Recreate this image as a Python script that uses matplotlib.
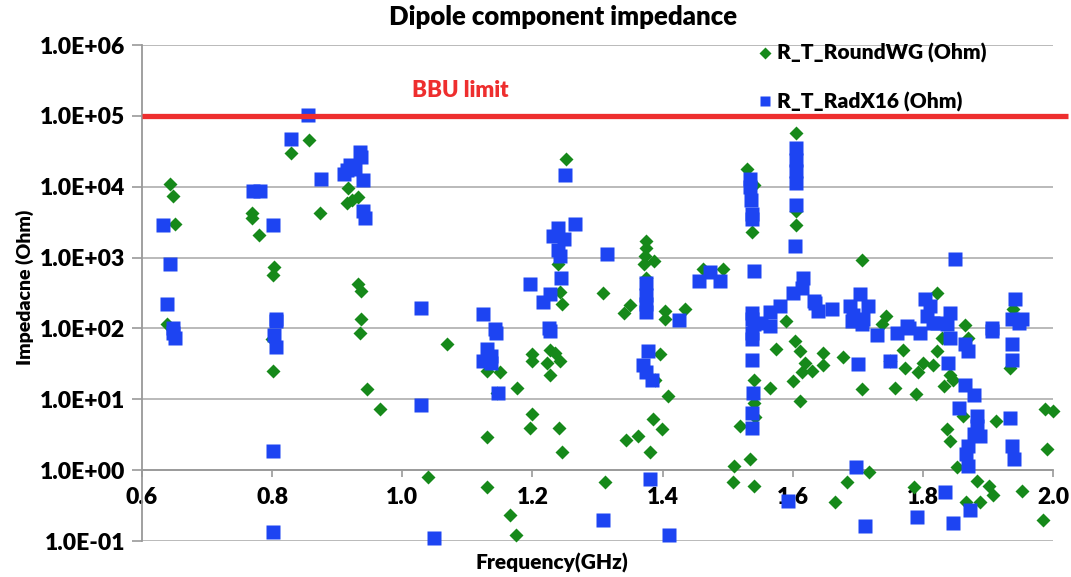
import matplotlib
matplotlib.use("Agg")
import matplotlib.pyplot as plt
from matplotlib.ticker import FixedLocator, FixedFormatter, NullLocator

# ---- data ----
roundwg_freq = [0.643, 0.647, 0.651, 0.638, 0.769, 0.769, 0.780, 0.803, 0.801, 0.800, 0.801,
                0.829, 0.857, 0.874, 0.917, 0.915, 0.932, 0.922, 0.932, 0.936, 0.937, 0.935,
                0.946, 0.965, 1.040, 1.069, 1.130, 1.130, 1.130, 1.150, 1.145, 1.166, 1.175,
                1.176, 1.199, 1.199, 1.199, 1.197, 1.227, 1.235, 1.222, 1.242, 1.227, 1.241,
                1.245, 1.243, 1.245, 1.240, 1.252, 1.309, 1.3115, 1.344, 1.363, 1.350, 1.340,
                1.375, 1.375, 1.373, 1.387, 1.372, 1.375, 1.381, 1.385, 1.399, 1.396, 1.389,
                1.409, 1.404, 1.404, 1.4345, 1.4626, 1.4925, 1.529, 1.540, 1.538, 1.541, 1.541,
                1.542, 1.519, 1.510, 1.535, 1.508, 1.541, 1.565, 1.575, 1.590, 1.605, 1.605,
                1.605, 1.604, 1.611, 1.619, 1.614, 1.601, 1.611, 1.629, 1.647, 1.647, 1.678,
                1.706, 1.706, 1.744, 1.737, 1.683, 1.665, 1.718, 1.786, 1.821, 1.865, 1.870,
                1.821, 1.829, 1.800, 1.815, 1.792, 1.770, 1.772, 1.749, 1.757, 1.790, 1.832,
                1.842, 1.847, 1.862, 1.837, 1.842, 1.852, 1.883, 1.901, 1.908, 1.888, 1.867,
                1.952, 1.913, 1.985, 1.988, 2.000, 1.991, 1.939, 1.934]
roundwg_ohm = [1.09e4, 7.3e3, 3.0e3, 114, 4.2e3, 3.6e3, 2.06e3, 740, 575, 70, 25,
               3.0e4, 4.6e4, 4.3e3, 9.5e3, 5.9e3, 7.2e3, 6.6e3, 420, 340, 134, 87,
               14, 7.4, 0.81, 60, 2.9, 0.57, 25, 24, 12.4, 0.23, 0.12,
               14.3, 43, 35, 6.2, 3.9, 50, 45, 33, 35, 22, 3.9,
               1.8, 325, 218, 800, 2.5e4, 316, 0.68, 2.7, 3.0, 211, 166,
               1.7e3, 1.38e3, 1.05e3, 890, 800, 515, 1.78, 5.2, 3.8, 43, 19,
               11.3, 174, 134, 185, 680, 680, 1.8e4, 1.07e4, 2.3e3, 19, 9.0,
               5.7, 4.2, 1.13, 1.43, 0.68, 0.60, 14.6, 52, 126, 5.8e4, 4.5e3,
               2.9e3, 66, 48, 33, 24, 18, 9.5, 25, 45, 30, 39,
               14, 910, 151, 114, 0.68, 0.36, 0.95, 0.57, 315, 110, 74,
               48, 74, 33, 30, 24, 50, 28, 35, 14.6, 11.8, 15.5,
               22, 19, 5.8, 3.8, 2.6, 1.1, 0.71, 0.60, 0.44, 0.35, 0.36,
               0.51, 5.0, 0.195, 7.4, 6.8, 1.98, 186, 28]

radx16_freq = [0.6327, 0.643, 0.638, 0.648, 0.648, 0.651, 0.771, 0.781, 0.8008, 0.806,
               0.806, 0.803, 0.806, 0.801, 0.801, 0.8285, 0.8556, 0.875, 0.915, 0.910,
               0.920, 0.927, 0.935, 0.937, 0.940, 0.940, 0.942, 1.028, 1.0288, 1.0487,
               1.1245, 1.1425, 1.1435, 1.130, 1.137, 1.137, 1.1245, 1.1475, 1.196, 1.217,
               1.227, 1.226, 1.227, 1.240, 1.232, 1.248, 1.240, 1.243, 1.244, 1.250,
               1.2655, 1.309, 1.315, 1.378, 1.370, 1.375, 1.383, 1.381, 1.410, 1.375,
               1.375, 1.375, 1.375, 1.4258, 1.4565, 1.473, 1.488, 1.5405, 1.534, 1.534,
               1.536, 1.537, 1.537, 1.537, 1.540, 1.552, 1.537, 1.538, 1.538, 1.538,
               1.539, 1.537, 1.538, 1.565, 1.580, 1.565, 1.593, 1.601, 1.614, 1.616,
               1.632, 1.605, 1.605, 1.605, 1.605, 1.605, 1.603, 1.634, 1.639, 1.660,
               1.688, 1.693, 1.716, 1.708, 1.703, 1.701, 1.697, 1.711, 1.750, 1.775,
               1.803, 1.811, 1.806, 1.842, 1.816, 1.849, 1.839, 1.791, 1.834, 1.847,
               1.872, 1.691, 1.706, 1.729, 1.760, 1.778, 1.796, 1.821, 1.837, 1.842,
               1.865, 1.870, 1.906, 1.937, 1.937, 1.947, 1.906, 1.9416, 1.937, 1.952,
               1.865, 1.878, 1.856, 1.883, 1.883, 1.878, 1.888, 1.870, 1.867, 1.870,
               1.934, 1.937, 1.940]
radx16_ohm = [2.85e3, 800, 223, 102, 87, 74, 8.8e3, 8.8e3, 2.9e3, 137,
              126, 82, 54, 1.87, 0.133, 4.7e4, 1.03e5, 1.28e4, 1.7e4, 1.5e4,
              2.0e4, 1.8e4, 3.1e4, 2.6e4, 1.26e4, 4.5e3, 3.6e3, 195, 8.2, 0.11,
              162, 98, 85, 51, 41, 33, 35, 12.4, 430, 236,
              310, 102, 91, 2.6e3, 2.0e3, 1.8e3, 1.29e3, 1.05e3, 515, 1.48e4,
              3.0e3, 0.20, 1.14e3, 48, 30, 24, 19, 0.74, 0.12, 440,
              300, 220, 170, 132, 465, 620, 465, 650, 1.3e4, 1.0e4,
              6.6e3, 4.1e3, 3.5e3, 166, 115, 120, 134, 87, 70, 36,
              12.3, 6.5, 3.9, 173, 205, 107, 0.37, 315, 370, 510,
              240, 3.5e4, 2.4e4, 1.64e4, 1.12e4, 5.6e3, 1.45e3, 230, 175, 190,
              205, 157, 205, 134, 310, 31, 1.1, 0.164, 35, 107,
              257, 205, 148, 166, 120, 960, 33, 0.216, 0.49, 0.18,
              0.27, 126, 114, 82, 87, 102, 87, 120, 114, 74,
              60, 48, 91, 60, 36, 120, 102, 263, 134, 134,
              16, 11.4, 7.6, 5.8, 4.2, 3.2, 3.0, 2.2, 1.7, 1.15,
              5.5, 2.2, 1.43]

bbu_limit = 1.0e5
x_ticks = [0.6, 0.8, 1.0, 1.2, 1.4, 1.6, 1.8, 2.0]
x_tick_labels = ["0.6", "0.8", "1.0", "1.2", "1.4", "1.6", "1.8", "2.0"]
y_ticks = [1e-1, 1e0, 1e1, 1e2, 1e3, 1e4, 1e5, 1e6]
y_tick_labels = ["1.0E-01", "1.0E+00", "1.0E+01", "1.0E+02",
                 "1.0E+03", "1.0E+04", "1.0E+05", "1.0E+06"]

GREEN = "#16891a"
BLUE = "#1d44f2"
RED = "#ee2e2e"
GRID = "#b4b4b4"
FONT = "Lato"

W, H = 1071, 577
fig = plt.figure(figsize=(W / 100, H / 100), dpi=100)
fig.patch.set_facecolor("white")
ax = fig.add_axes([142 / W, 1 - 541 / H, 911 / W, 496 / H])

ax.set_yscale("log")
ax.set_xlim(0.6, 2.0)
ax.set_ylim(0.1, 1e6)

ax.plot(roundwg_freq, roundwg_ohm, linestyle="none", marker="D", ms=7.4,
        color=GREEN, mec="none", clip_on=False, zorder=3,
        label="R_T_RoundWG (Ohm)")
ax.plot(radx16_freq, radx16_ohm, linestyle="none", marker="s", ms=9.5,
        color=BLUE, mec="none", clip_on=False, zorder=4,
        label="R_T_RadX16 (Ohm)")

# BBU limit line
ax.plot([0, 1.017], [bbu_limit, bbu_limit], transform=ax.get_yaxis_transform(),
        color=RED, lw=3.8, clip_on=False, zorder=5, solid_capstyle="butt")
ax.text(1.089, 2.3e5, "BBU limit", color=RED, fontsize=16, fontweight="heavy",
        family=FONT, ha="center", va="center")

# axes styling
ax.yaxis.set_major_locator(FixedLocator(y_ticks))
ax.yaxis.set_major_formatter(FixedFormatter(y_tick_labels))
ax.yaxis.set_minor_locator(NullLocator())
ax.xaxis.set_major_locator(FixedLocator(x_ticks))
ax.xaxis.set_major_formatter(FixedFormatter(x_tick_labels))
ax.grid(axis="y", color=GRID, lw=1.3, zorder=0)
ax.set_axisbelow(True)
for s in ["top", "right"]:
    ax.spines[s].set_visible(False)
ax.spines["left"].set_color("#999999")
ax.spines["left"].set_linewidth(1.3)
ax.spines["bottom"].set_position(("data", 1.0))
ax.spines["bottom"].set_color("#999999")
ax.spines["bottom"].set_linewidth(1.3)
ax.tick_params(axis="y", length=7, width=1.2, color="#999999", pad=5)
ax.tick_params(axis="x", length=5, width=1.2, color="#999999", pad=7)
for lab in ax.get_yticklabels() + ax.get_xticklabels():
    lab.set_fontfamily(FONT)
    lab.set_fontweight("heavy")
    lab.set_fontsize(16.5)

leg = ax.legend(loc="upper left", bbox_to_anchor=(0.663, 1.02), frameon=False,
                prop={"family": FONT, "weight": "heavy", "size": 15},
                labelspacing=1.35, handletextpad=0.1, handlelength=1.0,
                markerscale=0.8, borderaxespad=0)

fig.text(563 / W, 1 - 17 / H, "Dipole component impedance", ha="center", va="center",
         fontsize=18.5, fontweight="heavy", family=FONT)
fig.text(552 / W, 1 - 563 / H, "Frequency(GHz)", ha="center", va="center",
         fontsize=15, fontweight="heavy", family=FONT)
fig.text(25 / W, 1 - 287 / H, "Impedacne (Ohm)", ha="center", va="center",
         rotation=90, fontsize=14, fontweight="heavy", family=FONT)

fig.savefig("out.png", dpi=100, facecolor="white")
